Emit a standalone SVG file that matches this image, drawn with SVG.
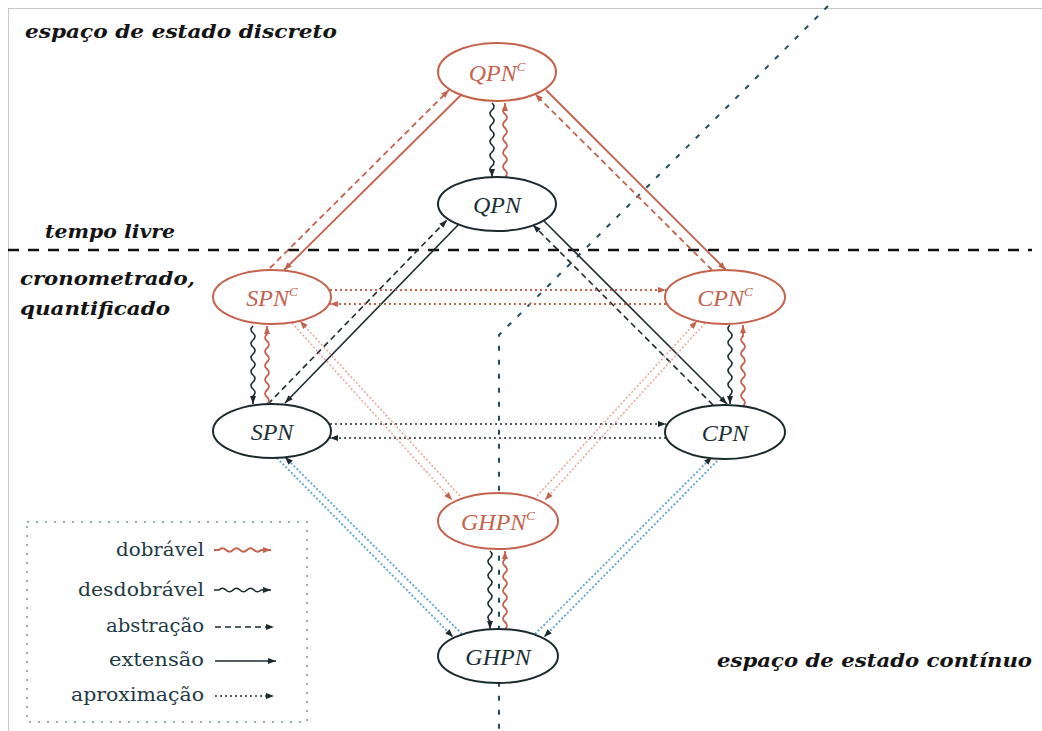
<svg xmlns="http://www.w3.org/2000/svg" width="1042" height="731" viewBox="0 0 1042 731">
<style>
.bg{fill:#fff}
.frame{fill:none;stroke:#8c8c8c;stroke-width:1;stroke-dasharray:1 1}
.region{font-family:"DejaVu Serif","Liberation Serif",serif;font-weight:bold;font-style:italic;font-size:19px;fill:#141414}
.nr ellipse{fill:#fff;stroke:#c5624c;stroke-width:2}
.nb ellipse{fill:#fff;stroke:#1c2a2f;stroke-width:2}
.nr text{fill:#c5624c}
.nb text{fill:#1c3038}
.lab{font-family:"Liberation Serif","DejaVu Serif",serif;font-style:italic;font-size:24px;text-anchor:middle}
.sup{font-size:13px}
.red{stroke:#c5624c;stroke-width:1.8;fill:none}
.blk{stroke:#1c2a2f;stroke-width:1.6;fill:none}
.dash{stroke-dasharray:6 4}
.dot{stroke-dasharray:2 3}
.pink{stroke:#e6a595;stroke-width:1.5;fill:none;stroke-dasharray:2 2}
.blue{stroke:#5aa6cc;stroke-width:1.8;fill:none;stroke-dasharray:2 2}
.sep{stroke:#111;stroke-width:2.5;stroke-dasharray:11 9;fill:none}
.axis{stroke:#1f4f5f;stroke-width:2;stroke-dasharray:5 9;fill:none}
.leg{font-family:"DejaVu Serif","Liberation Serif",serif;font-size:18px;fill:#1f3a44;text-anchor:end}
.legbox{fill:none;stroke:#7f97a0;stroke-width:1.5;stroke-dasharray:2 7}
</style>
<defs>
<marker id="ab" viewBox="0 0 8 6" refX="8" refY="3" markerWidth="8" markerHeight="6" markerUnits="userSpaceOnUse" orient="auto"><path d="M0,0 L8,3 L0,6 z" fill="#1c2a2f"/></marker>
<marker id="ar" viewBox="0 0 8 6" refX="8" refY="3" markerWidth="8" markerHeight="6" markerUnits="userSpaceOnUse" orient="auto"><path d="M0,0 L8,3 L0,6 z" fill="#c5624c"/></marker>
</defs>
<rect class="bg" x="0" y="0" width="1042" height="731"/>
<rect class="frame" x="8.5" y="8.5" width="1040" height="730"/>

<g id="regions">
<text class="region" x="25" y="38" textLength="312" lengthAdjust="spacingAndGlyphs">espaço de estado discreto</text>
<text class="region" x="45" y="238" textLength="130" lengthAdjust="spacingAndGlyphs">tempo livre</text>
<text class="region" x="20" y="285" textLength="175" lengthAdjust="spacingAndGlyphs">cronometrado,</text>
<text class="region" x="20" y="315" textLength="150" lengthAdjust="spacingAndGlyphs">quantificado</text>
<text class="region" x="717" y="667" textLength="315" lengthAdjust="spacingAndGlyphs">espaço de estado contínuo</text>
</g>

<g id="separators">
<path class="sep" d="M8,250 H1032"/>
<path class="axis" d="M828,6 L499,335 V731"/>
</g>

<g id="connectors">
<path class="red dash" d="M270,268 L449,90" marker-end="url(#ar)"/>
<path class="red" d="M461,95 L284,270" marker-end="url(#ar)"/>
<path class="red dash" d="M712,270 L535,94" marker-end="url(#ar)"/>
<path class="red" d="M546,90 L726,270" marker-end="url(#ar)"/>
<path class="blk" d="M492,103 q4,3.5 0,7 t0,7 t0,7 t0,7 t0,7 t0,7 t0,7 t0,7 t0,7 t0,7 v4" marker-end="url(#ab)"/>
<path class="red" d="M505,177 q4,-3.5 0,-7 t0,-7 t0,-7 t0,-7 t0,-7 t0,-7 t0,-7 t0,-7 t0,-7 t0,-7 v-4" marker-end="url(#ar)"/>
<path class="blk" d="M459,224 L285,403" marker-end="url(#ab)"/>
<path class="blk dash" d="M268,404 L447,220" marker-end="url(#ab)"/>
<path class="blk" d="M544,221 L727,404" marker-end="url(#ab)"/>
<path class="blk dash" d="M713,405 L533,225" marker-end="url(#ab)"/>
<path class="red dot" d="M330,290 H666" marker-end="url(#ar)"/>
<path class="red dot" d="M666,304 H330" marker-end="url(#ar)"/>
<path class="blk" d="M253,326 q-4,3.5 0,7 t0,7 t0,7 t0,7 t0,7 t0,7 t0,7 t0,7 t0,7 t0,7 v8" marker-end="url(#ab)"/>
<path class="red" d="M267,404 q4,-3.5 0,-7 t0,-7 t0,-7 t0,-7 t0,-7 t0,-7 t0,-7 t0,-7 t0,-7 t0,-7 v-8" marker-end="url(#ar)"/>
<path class="blk" d="M730,325 q-4,3.5 0,7 t0,7 t0,7 t0,7 t0,7 t0,7 t0,7 t0,7 t0,7 t0,7 v9" marker-end="url(#ab)"/>
<path class="red" d="M743,406 q4,-3.5 0,-7 t0,-7 t0,-7 t0,-7 t0,-7 t0,-7 t0,-7 t0,-7 t0,-7 t0,-7 v-11" marker-end="url(#ar)"/>
<path class="blk dot" d="M330,424 H666" marker-end="url(#ab)"/>
<path class="blk dot" d="M666,438 H330" marker-end="url(#ab)"/>
<path class="pink" d="M292,323 L452,500" marker-end="url(#ar)"/>
<path class="pink" d="M460,496 L300,321" marker-end="url(#ar)"/>
<path class="pink" d="M705,323 L545,500" marker-end="url(#ar)"/>
<path class="pink" d="M537,496 L697,321" marker-end="url(#ar)"/>
<path class="blue" d="M462,634 L285,457" marker-end="url(#ab)"/>
<path class="blue" d="M277,458 L453,637" marker-end="url(#ab)"/>
<path class="blue" d="M535,634 L712,457" marker-end="url(#ab)"/>
<path class="blue" d="M720,458 L544,637" marker-end="url(#ab)"/>
<path class="blk" d="M490,551 q4,3.5 0,7 t0,7 t0,7 t0,7 t0,7 t0,7 t0,7 t0,7 t0,7 t0,7 v8" marker-end="url(#ab)"/>
<path class="red" d="M505,629 q4,-3.5 0,-7 t0,-7 t0,-7 t0,-7 t0,-7 t0,-7 t0,-7 t0,-7 t0,-7 t0,-7 v-8" marker-end="url(#ar)"/>
</g>

<g id="QPNc" class="nr"><ellipse cx="497" cy="72" rx="59" ry="29"/><text class="lab" x="497" y="81">QPN<tspan class="sup" dy="-10">C</tspan></text></g>
<g id="QPN" class="nb"><ellipse cx="497" cy="204" rx="59" ry="27"/><text class="lab" x="497" y="213">QPN</text></g>
<g id="SPNc" class="nr"><ellipse cx="272" cy="297" rx="59" ry="27"/><text class="lab" x="272" y="306">SPN<tspan class="sup" dy="-10">C</tspan></text></g>
<g id="CPNc" class="nr"><ellipse cx="725" cy="297" rx="60" ry="27"/><text class="lab" x="725" y="306">CPN<tspan class="sup" dy="-10">C</tspan></text></g>
<g id="SPN" class="nb"><ellipse cx="272" cy="431" rx="59" ry="27"/><text class="lab" x="272" y="440">SPN</text></g>
<g id="CPN" class="nb"><ellipse cx="725" cy="432" rx="60" ry="27"/><text class="lab" x="725" y="441">CPN</text></g>
<g id="GHPNc" class="nr"><ellipse cx="498" cy="521" rx="60" ry="28"/><text class="lab" x="498" y="530">GHPN<tspan class="sup" dy="-10">C</tspan></text></g>
<g id="GHPN" class="nb"><ellipse cx="498" cy="656" rx="60" ry="27"/><text class="lab" x="498" y="665">GHPN</text></g>

<g id="legend">
<rect class="legbox" x="27" y="522" width="280" height="200"/>
<text class="leg" x="204" y="556" textLength="88" lengthAdjust="spacingAndGlyphs">dobrável</text>
<path class="red" d="M214,550 h5 q3.5,-3.5 7,0 t7,0 t7,0 t7,0 t7,0 t7,0 h10" marker-end="url(#ar)"/>
<text class="leg" x="204" y="596" textLength="126" lengthAdjust="spacingAndGlyphs">desdobrável</text>
<path class="blk" d="M214,590 h5 q3.5,-3.5 7,0 t7,0 t7,0 t7,0 t7,0 t7,0 h10" marker-end="url(#ab)"/>
<text class="leg" x="204" y="632" textLength="98" lengthAdjust="spacingAndGlyphs">abstração</text>
<path class="blk dash" d="M215,627 H274" marker-end="url(#ab)"/>
<text class="leg" x="204" y="666" textLength="95" lengthAdjust="spacingAndGlyphs">extensão</text>
<path class="blk" d="M215,661 H276" marker-end="url(#ab)"/>
<text class="leg" x="204" y="701" textLength="133" lengthAdjust="spacingAndGlyphs">aproximação</text>
<path class="blk dot" d="M215,696 H274" marker-end="url(#ab)"/>
</g>
</svg>
